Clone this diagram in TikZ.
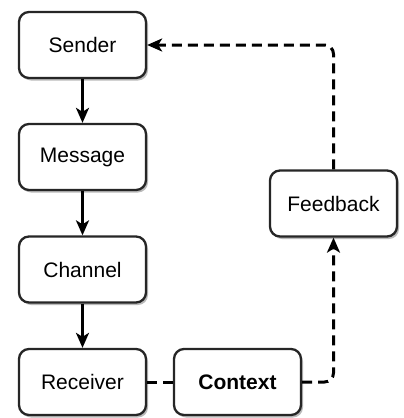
\documentclass[tikz,border=0pt]{standalone}
\usepackage{fontspec}
\setmainfont{Liberation Sans}
\usetikzlibrary{arrows.meta,shadows}
\begin{document}
\begin{tikzpicture}[x=1pt,y=1pt,
  box/.style={draw=black!85, line width=2.3pt, rounded corners=10pt, fill=white,
    minimum width=127pt, minimum height=66pt, inner sep=0pt,
    font=\fontsize{21}{25}\selectfont,
    drop shadow={shadow xshift=2pt, shadow yshift=-2.5pt, fill=black!45, opacity=0.6}},
  flow/.style={line width=2.5pt, -{Stealth[length=15pt,width=13pt,inset=4pt]}},
  fb/.style={line width=3pt, dash pattern=on 10pt off 6pt, rounded corners=9pt},
  tip/.style={-{Stealth[length=15pt,width=13pt,inset=4pt]}}
]
\useasboundingbox (0,0) rectangle (404,-418);
\node[box] (sender) at (82.5,-45) {Sender};
\node[box] (message) at (82.5,-157) {Message};
\node[box] (channel) at (82.5,-269.5) {Channel};
\node[box] (receiver) at (82.5,-382) {Receiver};
\node[box, font=\fontsize{21}{25}\selectfont\bfseries] (context) at (237.5,-382) {Context};
\node[box] (feedback) at (333.5,-203.5) {Feedback};
\draw[flow] (sender) -- (message);
\draw[flow] (message) -- (channel);
\draw[flow] (channel) -- (receiver);
\draw[fb] (receiver) -- (context);
\draw[fb, tip] (feedback.north) -- (feedback.north |- sender.east) -- (sender.east);
\draw[fb, tip] (context.east) -- (context.east -| feedback.south) -- (feedback.south);
\end{tikzpicture}
\end{document}
